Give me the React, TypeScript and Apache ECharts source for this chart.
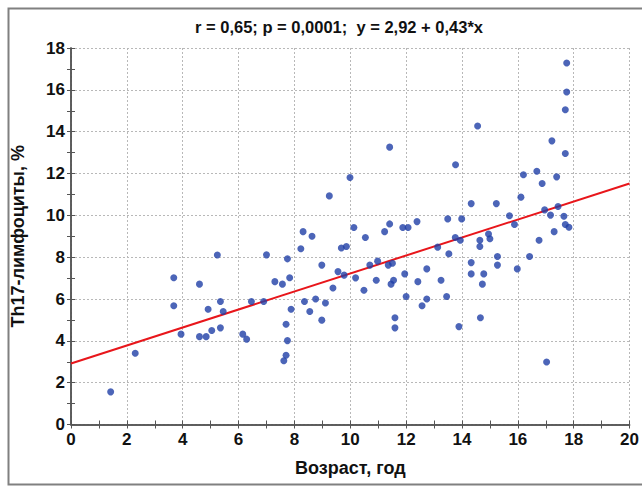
import React, { useEffect, useRef } from "react";
import * as echarts from "echarts";

// Age (years) of each patient
const ageYears: number[] = [
  1.42, 2.30, 3.68, 3.68, 3.94, 4.60, 4.60, 4.84, 4.91, 5.24, 5.35, 5.45, 5.04, 5.35, 6.15, 6.29, 6.46,
  6.90, 7.00, 7.30, 7.57, 7.75, 7.83, 7.88, 7.70, 7.75, 7.70, 7.62, 8.31, 8.63, 8.23, 8.36, 8.55, 8.76,
  8.98, 8.98, 9.11, 9.38, 9.56, 9.68, 9.86, 9.78, 10.13, 10.19, 10.49, 10.54, 10.70, 10.93, 10.98, 11.23,
  11.41, 11.36, 11.51, 11.46, 11.55, 11.60, 11.60, 11.88, 12.07, 11.95, 12.00, 12.39, 12.42, 12.74, 12.74,
  12.57, 13.25, 13.13, 11.41, 9.99, 9.25,
  17.75, 17.75, 17.70, 14.56, 17.22, 17.70, 13.77, 16.20, 16.68, 16.87, 17.39, 16.11, 14.33, 15.23, 16.96,
  17.44, 13.49, 13.99, 15.70, 17.17, 17.65, 15.88, 17.70, 17.83, 17.30,
  13.76, 13.94, 13.53, 14.64, 14.64, 14.95, 15.00, 16.76, 16.42, 15.27, 15.27, 14.33, 14.33, 14.78, 14.73,
  15.98, 13.45, 14.66, 13.89, 17.03,
];

// Th17 lymphocytes (%) for the same patients
const th17Percent: number[] = [
  1.56, 3.41, 7.02, 5.68, 4.32, 6.71, 4.20, 4.20, 5.51, 8.10, 5.88, 5.40, 4.49, 4.62, 4.32, 4.08, 5.88,
  5.88, 8.11, 6.83, 6.71, 7.92, 7.02, 5.51, 4.79, 4.01, 3.31, 3.05, 9.22, 9.00, 8.40, 5.88, 5.40, 6.00,
  7.62, 4.99, 5.81, 6.53, 7.31, 8.44, 8.51, 7.14, 9.42, 7.01, 6.42, 8.94, 7.62, 6.90, 7.81, 9.22,
  9.59, 7.62, 7.71, 6.71, 6.90, 5.10, 4.62, 9.42, 9.42, 7.20, 6.12, 9.70, 6.83, 7.44, 6.00,
  5.68, 6.90, 8.48, 13.26, 11.81, 10.93,
  17.28, 15.90, 15.05, 14.27, 13.56, 12.96, 12.42, 11.94, 12.11, 11.52, 11.84, 10.87, 10.56, 10.56, 10.26,
  10.42, 9.83, 9.83, 9.98, 10.01, 9.96, 9.56, 9.56, 9.43, 9.22,
  8.94, 8.81, 8.16, 8.81, 8.51, 9.11, 8.88, 8.81, 8.03, 8.03, 7.62, 7.74, 7.20, 7.20, 6.71,
  7.44, 6.12, 5.10, 4.68, 2.99,
];

// Linear fit y = a + b*x
const fitIntercept = 2.92;
const fitSlope = 0.43;
const xRange: number[] = [0, 20];
const yRange: number[] = [0, 18];

const FONT = "'Liberation Sans Narrow', 'Arial Narrow', 'Liberation Sans', Arial, sans-serif";

export default function App() {
  const ref = useRef<HTMLDivElement>(null);

  useEffect(() => {
    if (!ref.current) return;
    const chart = echarts.init(ref.current, null, { renderer: "svg" });

    const points = ageYears.map((x, i) => [x, th17Percent[i]]);
    const fitLine = xRange.map((x) => [x, fitIntercept + fitSlope * x]);

    const tickCommon = {
      show: true,
      inside: true,
      length: 4,
      lineStyle: { color: "#555", width: 1 },
    };
    const minorCommon = {
      show: true,
      splitNumber: 2,
      length: 4,
      lineStyle: { color: "#555", width: 1 },
    };
    const axisLineCommon = { show: true, lineStyle: { color: "#555", width: 1.5 } };
    const labelStyle = { fontFamily: FONT, fontWeight: "bold", fontSize: 17, color: "#111" };
    const nameStyle = { fontFamily: FONT, fontWeight: "bold", fontSize: 18, color: "#111" };

    chart.setOption({
      animation: false,
      backgroundColor: "#ffffff",
      graphic: [
        {
          type: "rect",
          shape: { x: 8.5, y: 8.5, width: 645, height: 476 },
          style: { fill: "none", stroke: "#808080", lineWidth: 2 },
          silent: true,
          z: -10,
        },
        {
          type: "text",
          x: 339,
          y: 27,
          style: {
            text: "r = 0,65; p = 0,0001;  y = 2,92 + 0,43*x",
            font: `bold 16.5px ${FONT}`,
            fill: "#111",
            textAlign: "center",
            textVerticalAlign: "middle",
          },
        },
      ],
      grid: { left: 71, right: 5, top: 48, bottom: 63.5, containLabel: false },
      xAxis: [
        {
          type: "value",
          min: xRange[0],
          max: xRange[1],
          interval: 2,
          position: "bottom",
          name: "Возраст, год",
          nameLocation: "middle",
          nameGap: 34,
          nameTextStyle: nameStyle,
          axisLine: axisLineCommon,
          axisTick: tickCommon,
          minorTick: { ...minorCommon },
          axisLabel: { ...labelStyle, margin: 6 },
          splitLine: { show: true, lineStyle: { color: "#b8b8b8", type: [2, 2], width: 1 } },
        },
        {
          type: "value",
          min: xRange[0],
          max: xRange[1],
          interval: 2,
          position: "top",
          axisLine: axisLineCommon,
          axisTick: tickCommon,
          minorTick: { ...minorCommon },
          axisLabel: { show: false },
          splitLine: { show: false },
        },
      ],
      yAxis: [
        {
          type: "value",
          min: yRange[0],
          max: yRange[1],
          interval: 2,
          position: "left",
          name: "Th17-лимфоциты, %",
          nameLocation: "middle",
          nameGap: 44,
          nameTextStyle: nameStyle,
          axisLine: axisLineCommon,
          axisTick: tickCommon,
          minorTick: { ...minorCommon },
          axisLabel: { ...labelStyle, margin: 6 },
          splitLine: { show: true, lineStyle: { color: "#b8b8b8", type: [2, 2], width: 1 } },
        },
        {
          type: "value",
          min: yRange[0],
          max: yRange[1],
          interval: 2,
          position: "right",
          axisLine: axisLineCommon,
          axisTick: tickCommon,
          minorTick: { ...minorCommon },
          axisLabel: { show: false },
          splitLine: { show: false },
        },
      ],
      series: [
        {
          type: "scatter",
          data: points,
          symbol: "circle",
          symbolSize: 7,
          itemStyle: { color: "#1f3ea6" },
          z: 3,
        },
        {
          type: "line",
          data: fitLine,
          showSymbol: false,
          lineStyle: { color: "#e8161b", width: 2 },
          z: 2,
        },
      ],
    });

    return () => chart.dispose();
  }, []);

  return (
    <div
      ref={ref}
      style={{ position: "absolute", left: 0, top: 0, width: 642, height: 488 }}
    />
  );
}
